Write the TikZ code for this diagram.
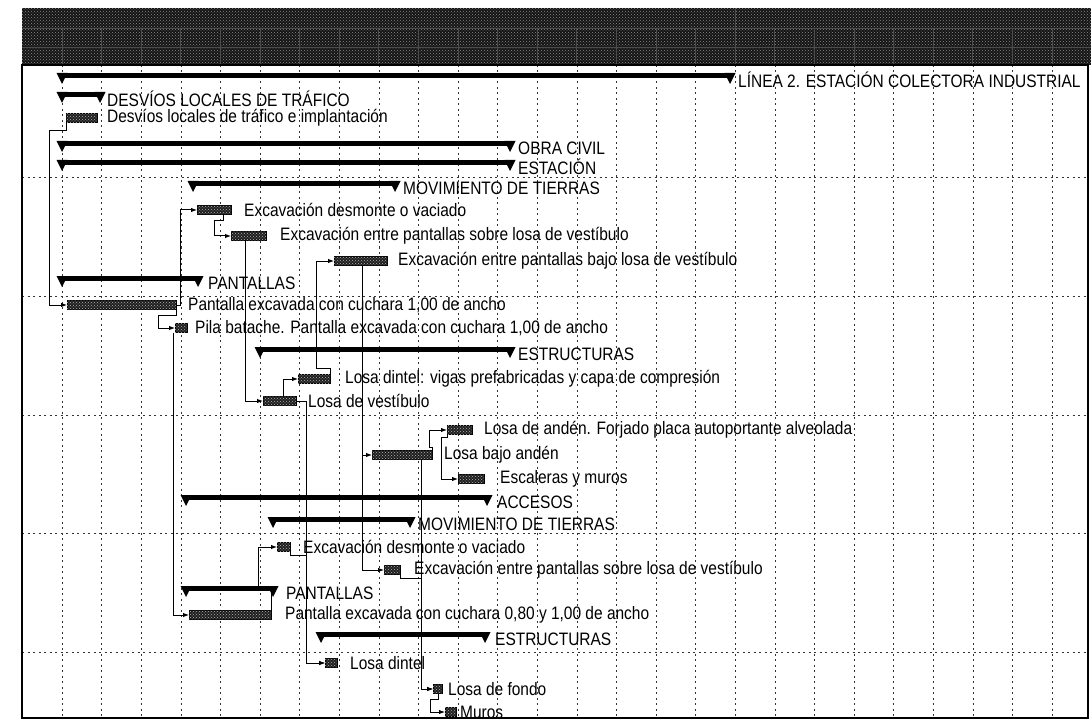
\documentclass[tikz,border=0pt]{standalone}
\usepackage{fontspec}
\setmainfont{Liberation Sans}[FakeStretch=0.86]
\usetikzlibrary{patterns,arrows.meta,calc}

% summary bar: name, start x, end x, row y
\newcommand\sumbar[4]{%
  \coordinate (#1a) at (#2,#4);
  \coordinate (#1b) at (#3,#4);
  \fill (#2,#4-7) rectangle (#3,#4-2);
  \fill (#2-5.5,#4-7) -- (#2+5.5,#4-7) -- (#2,#4+4) -- cycle;
  \fill (#3-5.5,#4-7) -- (#3+5.5,#4-7) -- (#3,#4+4) -- cycle;
}

\begin{document}
\begin{tikzpicture}[x=1pt,y=-1pt,
  lab/.style={font=\fontsize{18}{20}\selectfont, anchor=west, inner sep=0pt},
  taskbar/.style={draw=black, line width=0.8pt, fill=black!88, minimum height=9pt,
    inner sep=0pt, anchor=west, outer sep=0pt,
    postaction={pattern=crosshatch dots, pattern color=white!70!black}},
  link/.style={draw=black, line width=1pt, -{Latex[length=6pt,width=4.5pt]}},
  gridline/.style={black!80, line width=0.6pt, dash pattern=on 2pt off 3.5pt},
]
\useasboundingbox (0,0) rectangle (1091,727);
\fill[white] (0,0) rectangle (1091,727);

% timescale header
\fill[black!92] (22,8) rectangle (1091,65);
\fill[pattern=crosshatch dots, pattern color=black!45] (22,8) rectangle (1091,65);
\draw[black!70, line width=0.8pt] (22,28) -- (1091,28) (22,47) -- (1091,47);
\draw[black!70, line width=0.8pt] (735,8) -- (735,28);
\foreach \k in {0,...,25}
  \draw[black!70, line width=0.8pt] (62+39.6*\k,28) -- (62+39.6*\k,65);

% grid
\foreach \k in {0,...,25}
  \draw[gridline] (62+39.6*\k,65) -- (62+39.6*\k,718);
\foreach \yy in {177,296,415,533,652}
  \draw[gridline] (22,\yy) -- (1088,\yy);

% frame
\draw[line width=1.2pt] (22,65) rectangle (1088,718);

% summary bars
\sumbar{s1}{62}{730}{80}
\sumbar{s2}{62}{100}{99}
\sumbar{s4}{62}{510}{148}
\sumbar{s5}{62}{510}{167}
\sumbar{s6}{193}{395}{188}
\sumbar{s10}{62}{198}{283}
\sumbar{s13}{260}{510}{354}
\sumbar{s19}{186}{487}{502}
\sumbar{s20}{273}{410}{524}
\sumbar{s23}{186}{273}{593}
\sumbar{s25}{321}{485}{639}

% task bars
\node[taskbar, minimum width=31pt] (t3)  at (66,118) {};
\node[taskbar, minimum width=34pt] (t7)  at (197,210) {};
\node[taskbar, minimum width=35pt] (t8)  at (231,236) {};
\node[taskbar, minimum width=53pt] (t9)  at (334,261) {};
\node[taskbar, minimum width=109pt] (t11) at (67,305) {};
\node[taskbar, minimum width=12pt] (t12) at (175,328) {};
\node[taskbar, minimum width=32pt] (t14) at (298,379) {};
\node[taskbar, minimum width=33pt] (t15) at (263,401) {};
\node[taskbar, minimum width=25pt] (t16) at (447,430) {};
\node[taskbar, minimum width=60pt] (t17) at (372,455) {};
\node[taskbar, minimum width=26pt] (t18) at (458,479) {};
\node[taskbar, minimum width=13pt] (t21) at (277,547) {};
\node[taskbar, minimum width=16pt] (t22) at (384,570) {};
\node[taskbar, minimum width=82pt] (t24) at (189,615) {};
\node[taskbar, minimum width=12pt] (t26) at (325,663) {};
\node[taskbar, minimum width=9pt]  (t27) at (433,689) {};
\node[taskbar, minimum width=11pt] (t28) at (445,712) {};

% links
\draw[link] (t3.south west) -- ++(0,8) -| ([xshift=-18pt]t11.west) -- (t11.west);
\draw[link] (t11.east) -| ([xshift=-17pt]t7.west) -- (t7.west);
\draw[link] (t11.south east) -- ++(0,6) -| ([xshift=-17pt]t12.west) -- (t12.west);
\draw[link] ([xshift=-2pt]t12.south west) |- (t24.west);
\draw[link] ([xshift=-8pt]t7.south east) -- ++(0,6) -| ([xshift=-17pt]t8.west) -- (t8.west);
\draw[link] ([xshift=14pt]t8.south west) |- (t15.west);
\draw[link] ([xshift=20pt]t15.north west) |- (t14.west);
\draw[link] (t14.north east) -- ++(0,-6) -| ([xshift=-18pt]t9.west) -- (t9.west);
\draw[link] (t15.east) -| ([xshift=-19pt]t26.west) -- (t26.west);
\draw[link] ([xshift=28pt]t9.south west) |- (t17.west);
\draw[link] ([xshift=28pt]t9.south west) |- (t22.west);
\draw[link] (t17.north east) -- ++(0,-3) -| ([xshift=-18pt]t16.west) -- (t16.west);
\draw[link] (t16.south west) -- ++(0,3) -| ([xshift=-17pt]t18.west) -- (t18.west);
\draw[link] ([xshift=-11pt]t17.south east) |- (t27.west);
\draw[link] (t22.south east) -- ++(0,4) -| ([xshift=-12pt]t27.west) -- (t27.west);
\draw[link] ([xshift=-4pt]t27.south east) -- ++(0,6) -| ([xshift=-15pt]t28.west) -- (t28.west);
\draw[link] (t24.north east) -- ++(0,-20) -| ([xshift=-19pt]t21.west) -- (t21.west);
\draw[link] (t21.south east) -- ++(0,4) -| ([xshift=-19pt]t26.west) -- (t26.west);

% labels
\node[lab] (l1)  at (738,80)  {LÍNEA 2. ESTACIÓN COLECTORA INDUSTRIAL};
\node[lab] (l2)  at (107,99)  {DESVÍOS LOCALES DE TRÁFICO};
\node[lab] (l3)  at (107,118) {Desvíos locales de tráfico e implantación};
\node[lab] (l4)  at (518,148) {OBRA CIVIL};
\node[lab] (l5)  at (518,167) {ESTACIÓN};
\node[lab] (l6)  at (403,188) {MOVIMIENTO DE TIERRAS};
\node[lab] (l7)  at (244,210) {Excavación desmonte o vaciado};
\node[lab] (l8)  at (280,236) {Excavación entre pantallas sobre losa de vestíbulo};
\node[lab] (l9)  at (398,261) {Excavación entre pantallas bajo losa de vestíbulo};
\node[lab] (l10) at (208,283) {PANTALLAS};
\node[lab] (l11) at (188,305) {Pantalla excavada con cuchara 1,00 de ancho};
\node[lab] (l12) at (195,328) {Pila batache. Pantalla excavada con cuchara 1,00 de ancho};
\node[lab] (l13) at (518,354) {ESTRUCTURAS};
\node[lab] (l14) at (345,379) {Losa dintel: vigas prefabricadas y capa de compresión};
\node[lab] (l15) at (308,401) {Losa de vestíbulo};
\node[lab] (l16) at (484,430) {Losa de andén. Forjado placa autoportante alveolada};
\node[lab] (l17) at (444,455) {Losa bajo andén};
\node[lab] (l18) at (500,479) {Escaleras y muros};
\node[lab] (l19) at (497,502) {ACCESOS};
\node[lab] (l20) at (418,524) {MOVIMIENTO DE TIERRAS};
\node[lab] (l21) at (303,547) {Excavación desmonte o vaciado};
\node[lab] (l22) at (414,570) {Excavación entre pantallas sobre losa de vestíbulo};
\node[lab] (l23) at (286,593) {PANTALLAS};
\node[lab] (l24) at (285,615) {Pantalla excavada con cuchara 0,80 y 1,00 de ancho};
\node[lab] (l25) at (495,639) {ESTRUCTURAS};
\node[lab] (l26) at (350,663) {Losa dintel};
\node[lab] (l27) at (448,689) {Losa de fondo};
\node[lab] (l28) at (460,712) {Muros};
\end{tikzpicture}
\end{document}
